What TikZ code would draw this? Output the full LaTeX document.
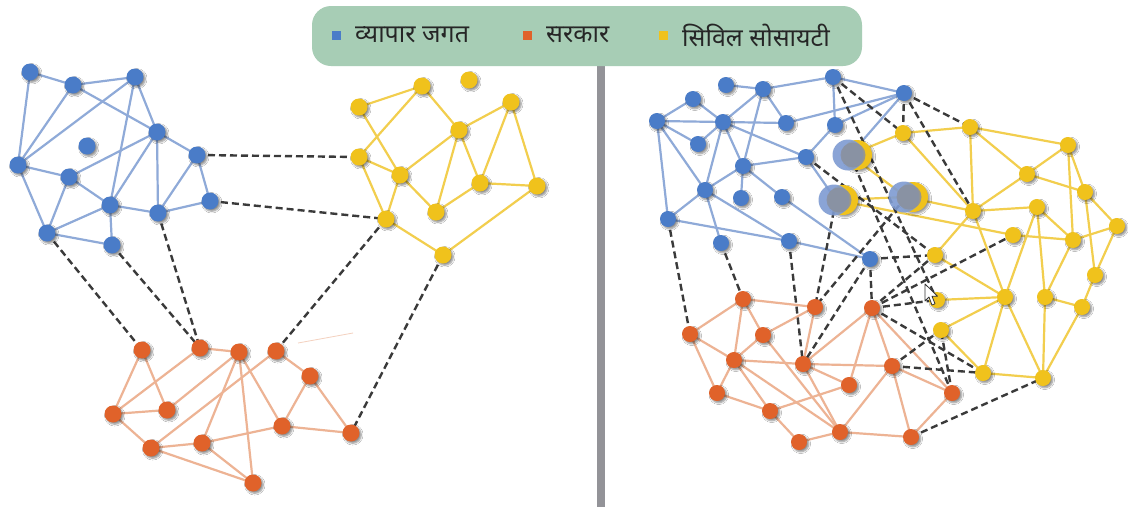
\documentclass[tikz,border=0pt]{standalone}
\usepackage{fontspec}
\newfontfamily\deva[Script=Devanagari]{Noto Sans}
\usetikzlibrary{shadows.blur}
\definecolor{netblue}{HTML}{4A7CC8}
\definecolor{netorange}{HTML}{E0622A}
\definecolor{netyellow}{HTML}{F0C21C}
\definecolor{bluelink}{HTML}{8FAAD8}
\definecolor{orangelink}{HTML}{EDB394}
\definecolor{yellowlink}{HTML}{F2CE4E}
\definecolor{dashgray}{HTML}{3A3A3A}
\definecolor{legendbg}{HTML}{A7CDB5}
\definecolor{divider}{HTML}{939398}
\definecolor{ghostblue}{HTML}{7E9BD2}
\definecolor{ghostgray}{HTML}{8A909E}
\tikzset{
  dot/.style={circle, inner sep=0pt, minimum size=17pt,
    blur shadow={shadow xshift=1.8pt, shadow yshift=-1.8pt,
      shadow blur steps=6, shadow opacity=45}},
  bdot/.style={dot, fill=netblue},
  odot/.style={dot, fill=netorange},
  ydot/.style={dot, fill=netyellow},
  bline/.style={draw=bluelink, line width=2.2pt},
  oline/.style={draw=orangelink, line width=2.2pt},
  yline/.style={draw=yellowlink, line width=2.2pt},
  cross/.style={draw=dashgray, line width=2.4pt, dash pattern=on 7pt off 4pt},
  keybox/.style={inner sep=0pt, minimum size=9pt},
  keytext/.style={anchor=west, inner sep=0pt, text=black!85, font=\deva\fontsize{25}{27}\selectfont},
}
\begin{document}
\begin{tikzpicture}[x=1pt, y=-1pt]
\useasboundingbox (0,0) rectangle (1128,507);
\fill[white] (0,0) rectangle (1128,507);

% divider between the two panels
\fill[divider] (597,66) rectangle (605,507);

% legend
\node[fill=legendbg, rounded corners=19pt, minimum width=550pt, minimum height=60pt, inner sep=0pt] (legend) at (587,36) {};
\node[keybox, fill=netblue] (kb) at (336,35) {};
\node[keytext] (tb) at (355,35) {व्यापार  जगत};
\node[keybox, fill=netorange] (ko) at (527,35) {};
\node[keytext] (to) at (546,35) {सरकार};
\node[keybox, fill=netyellow] (ky) at (663,35) {};
\node[keytext] (ty) at (682,35) {सिविल  सोसायटी};

% ---------- positions ----------
\foreach \n/\x/\y in {lb1/30/72, lb2/73/85, lb3/135/77, lb4/157/132, lb5/87/146,
  lb6/197/155, lb7/18/165, lb8/69/177, lb9/110/205, lb10/158/213, lb11/210/201,
  lb12/47/233, lb13/112/245,
  ly1/359/107, ly2/422/86, ly3/469/80, ly4/511/102, ly5/459/130,
  ly6/359/157, ly7/400/175, ly8/480/183, ly9/537/186, ly10/436/212, ly11/386/219,
  ly12/443/255,
  lo1/142/350, lo2/200/348, lo3/239/352, lo4/276/351, lo5/310/376,
  lo6/113/414, lo7/167/410, lo8/282/426, lo9/351/433, lo10/151/448, lo11/202/443,
  lo12/253/483,
  rb1/726/85, rb2/763/89, rb3/833/77, rb4/693/99, rb5/657/121,
  rb6/723/122, rb7/786/123, rb8/835/125, rb9/904/93, rb10/698/144, rb11/743/166,
  rb12/806/157, rb13/705/190, rb14/741/198, rb15/782/197, rb16/668/219,
  rb17/721/243, rb18/789/241, rb19/870/259,
  ry1/903/133, ry2/970/127, ry3/1068/145, ry4/1027/174,
  ry5/1085/192, ry6/973/211, ry7/1037/207, ry8/1013/235, ry9/1073/240,
  ry10/1117/226, ry11/935/255, ry12/1095/275, ry13/1005/297, ry14/1045/297,
  ry15/937/300, ry16/1082/307, ry17/941/330, ry18/983/373, ry19/1043/378,
  ro1/743/299, ro2/815/307, ro3/872/308, ro4/690/334,
  ro5/763/335, ro6/734/360, ro7/803/364, ro8/892/366, ro9/849/385, ro10/717/393,
  ro11/952/393, ro12/770/411, ro13/840/432, ro14/799/442, ro15/911/437,
  g1/850/155, g2/836/200, g3/906/197}
  \coordinate (\n) at (\x,\y);

% ---------- left panel links ----------
\foreach \a/\b in {lb1/lb2, lb1/lb7, lb2/lb3, lb2/lb4, lb2/lb7, lb3/lb7, lb3/lb4,
  lb3/lb9, lb4/lb6, lb4/lb8, lb4/lb9, lb4/lb10, lb6/lb10, lb6/lb11, lb10/lb11,
  lb7/lb8, lb7/lb12, lb8/lb9, lb8/lb12, lb9/lb10, lb9/lb12, lb9/lb13, lb12/lb13}
  \draw[bline] (\a) -- (\b);
\foreach \a/\b in {ly1/ly2, ly1/ly7, ly2/ly6, ly2/ly5, ly4/ly5, ly4/ly8, ly4/ly9,
  ly5/ly7, ly5/ly10, ly5/ly8, ly6/ly7, ly6/ly11, ly7/ly11, ly7/ly10, ly8/ly10,
  ly8/ly9, ly11/ly12, ly9/ly12}
  \draw[yline] (\a) -- (\b);
\foreach \a/\b in {lo1/lo6, lo1/lo7, lo2/lo6, lo2/lo3, lo3/lo7, lo3/lo11, lo3/lo12,
  lo3/lo8, lo4/lo10, lo4/lo5, lo5/lo8, lo5/lo9, lo8/lo9, lo8/lo11, lo6/lo7,
  lo6/lo10, lo10/lo11, lo10/lo12, lo11/lo12}
  \draw[oline] (\a) -- (\b);
\foreach \a/\b in {lb6/ly6, lb11/ly11, lb12/lo1, lb13/lo2, lb10/lo2, ly11/lo4, ly12/lo9}
  \draw[cross] (\a) -- (\b);
\coordinate (s1) at (298,343);
\coordinate (s2) at (353,333);
\draw[orangelink!60, line width=0.8pt] (s1) -- (s2);

% ---------- right panel links ----------
\foreach \a/\b in {rb1/rb2, rb2/rb3, rb3/rb9, rb3/rb8, rb4/rb6, rb5/rb4, rb5/rb6,
  rb5/rb13, rb5/rb16, rb5/rb10, rb2/rb6, rb2/rb7, rb2/rb11, rb6/rb7, rb6/rb13,
  rb6/rb11, rb6/rb12, rb7/rb9, rb8/rb9, rb8/rb12, rb11/rb12, rb11/rb13, rb11/rb14,
  rb11/rb15, rb13/rb16, rb13/rb17, rb13/rb18, rb16/rb18, rb18/rb19, rb15/rb19,
  rb9/g1, rb12/g2, rb10/rb6}
  \draw[bline] (\a) -- (\b);
\foreach \a/\b in {ry1/ry2, ry1/ry6, ry2/ry3, ry2/ry4, ry2/ry6, ry3/ry4, ry3/ry5,
  ry3/ry9, ry4/ry5, ry4/ry6, ry6/ry7, ry7/ry9, ry5/ry10, ry5/ry12, ry10/ry9,
  ry10/ry12, ry8/ry9, ry6/ry11, ry6/ry13, ry7/ry13, ry7/ry14, ry9/ry14, ry11/ry13,
  ry15/ry13, ry17/ry13, ry14/ry16, ry12/ry16, ry17/ry18, ry18/ry13, ry18/ry19,
  ry19/ry13, ry19/ry14, ry19/ry16, g1/ry1, g1/g3, g2/g3, g2/ry8, g3/ry6}
  \draw[yline] (\a) -- (\b);
\foreach \a/\b in {ro1/ro4, ro1/ro2, ro1/ro6, ro1/ro5, ro2/ro5, ro2/ro7, ro3/ro7,
  ro3/ro9, ro3/ro8, ro3/ro11, ro4/ro6, ro4/ro10, ro5/ro6, ro6/ro7, ro6/ro10,
  ro6/ro12, ro6/ro13, ro5/ro13, ro7/ro8, ro7/ro9, ro7/ro13, ro9/ro12, ro10/ro12,
  ro12/ro14, ro13/ro14, ro8/ro13, ro8/ro15, ro8/ro11, ro13/ro15, ro11/ro15}
  \draw[oline] (\a) -- (\b);
\foreach \a/\b in {rb16/ro4, rb17/ro1, rb18/ro7, g2/ro2, rb19/ro7, rb19/ro3,
  rb19/ry11, rb12/ry11, rb3/ry1, rb3/ry15, rb9/ry1, rb9/ry2, rb9/ry6, ro3/ry11,
  ro3/ry15, ro3/ry8, ro3/ry18, ro8/ry17, ro8/ry18, g1/ro11, ro11/ry17, ro15/ry19,
  g3/ro2}
  \draw[cross] (\a) -- (\b);

% ---------- members ----------
\foreach \n in {lb1,lb2,lb3,lb4,lb5,lb6,lb7,lb8,lb9,lb10,lb11,lb12,lb13}
  \node[bdot] (\n-m) at (\n) {};
\foreach \n in {ly1,ly2,ly3,ly4,ly5,ly6,ly7,ly8,ly9,ly10,ly11,ly12}
  \node[ydot] (\n-m) at (\n) {};
\foreach \n in {lo1,lo2,lo3,lo4,lo5,lo6,lo7,lo8,lo9,lo10,lo11,lo12}
  \node[odot] (\n-m) at (\n) {};
\foreach \n in {rb1,rb2,rb3,rb4,rb5,rb6,rb7,rb8,rb9,rb10,rb11,rb12,rb13,rb14,rb15,
  rb16,rb17,rb18,rb19}
  \node[bdot, minimum size=16pt] (\n-m) at (\n) {};
\foreach \n in {ry1,ry2,ry3,ry4,ry5,ry6,ry7,ry8,ry9,ry10,ry11,ry12,ry13,ry14,ry15,
  ry16,ry17,ry18,ry19}
  \node[ydot, minimum size=16pt] (\n-m) at (\n) {};
\foreach \n in {ro1,ro2,ro3,ro4,ro5,ro6,ro7,ro8,ro9,ro10,ro11,ro12,ro13,ro14,ro15}
  \node[odot, minimum size=16pt] (\n-m) at (\n) {};

% members belonging to two networks at once
\foreach \n in {g1,g2,g3} {
  \fill[netyellow, blur shadow={shadow xshift=1.8pt, shadow yshift=-1.8pt, shadow opacity=40}]
    ([xshift=7pt]\n) circle[radius=15];
  \fill[ghostblue, opacity=0.9] ([xshift=-2pt]\n) circle[radius=15.5];
  \fill[ghostgray, opacity=0.85] ([xshift=3pt]\n) circle[radius=12.5];
}

% mouse pointer
\coordinate (p0) at (925,284);
\draw[fill=white, draw=black!80, line width=0.8pt, line join=round]
  (p0) -- ++(0,17) -- ++(4,-4) -- ++(3,8) -- ++(3,-1.2) -- ++(-3,-7.6) -- ++(5.5,0) -- cycle;
\end{tikzpicture}
\end{document}
